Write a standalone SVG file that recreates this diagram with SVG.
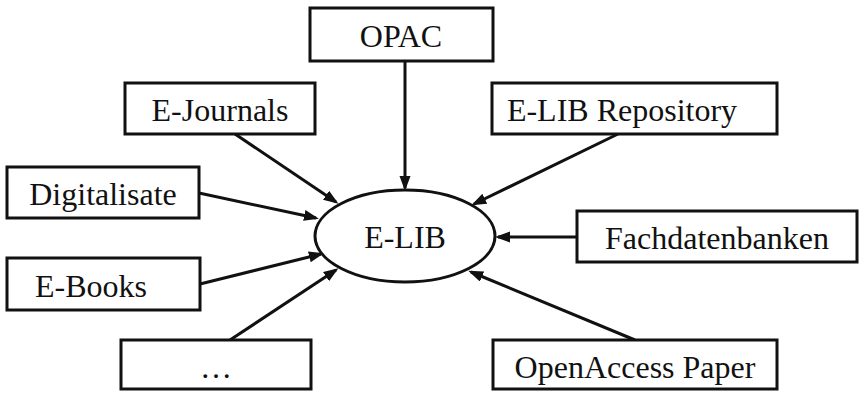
<svg xmlns="http://www.w3.org/2000/svg" width="860" height="393" viewBox="0 0 860 393">
  <defs>
    <marker id="arrow" markerUnits="userSpaceOnUse" markerWidth="16" markerHeight="12" refX="12" refY="5.5" orient="auto">
      <path d="M0,0 L15,5.5 L0,11 z" fill="#111"/>
    </marker>
    <style>
      .box { fill: #fff; stroke: #111; stroke-width: 3; }
      .label { font-family: "Liberation Serif", "Times New Roman", serif; font-size: 32px; fill: #111; text-anchor: middle; }
      .edge { stroke: #111; stroke-width: 3; fill: none; marker-end: url(#arrow); }
    </style>
  </defs>
  <rect width="860" height="393" fill="#fff"/>

  <g id="connectors">
    <line class="edge" x1="405" y1="61" x2="405" y2="188"/>
    <line class="edge" x1="235" y1="134" x2="336" y2="202"/>
    <line class="edge" x1="199" y1="193" x2="316" y2="218"/>
    <line class="edge" x1="200" y1="284" x2="321" y2="254"/>
    <line class="edge" x1="230" y1="340" x2="336" y2="270"/>
    <line class="edge" x1="618" y1="134" x2="474" y2="204"/>
    <line class="edge" x1="577" y1="237" x2="498" y2="237"/>
    <line class="edge" x1="635" y1="340" x2="471" y2="272"/>
  </g>

  <g id="elib">
    <ellipse cx="405" cy="236" rx="90" ry="46" fill="#fff" stroke="#111" stroke-width="3"/>
    <text class="label" x="405" y="248">E-LIB</text>
  </g>
  <g id="opac">
    <rect class="box" x="310" y="8" width="183" height="53"/>
    <text class="label" x="401" y="47">OPAC</text>
  </g>
  <g id="ejournals">
    <rect class="box" x="125" y="83" width="190" height="51"/>
    <text class="label" x="220" y="121">E-Journals</text>
  </g>
  <g id="digitalisate">
    <rect class="box" x="7" y="167" width="192" height="51"/>
    <text class="label" x="103" y="205">Digitalisate</text>
  </g>
  <g id="ebooks">
    <rect class="box" x="7" y="258" width="193" height="52"/>
    <text class="label" x="91" y="297">E-Books</text>
  </g>
  <g id="more">
    <rect class="box" x="121" y="340" width="190" height="49"/>
    <text class="label" x="216" y="378">…</text>
  </g>
  <g id="repository">
    <rect class="box" x="492" y="83" width="285" height="51"/>
    <text class="label" x="622" y="121">E-LIB Repository</text>
  </g>
  <g id="fachdatenbanken">
    <rect class="box" x="577" y="211" width="280" height="51"/>
    <text class="label" x="717" y="249">Fachdatenbanken</text>
  </g>
  <g id="openaccess">
    <rect class="box" x="493" y="340" width="284" height="49"/>
    <text class="label" x="635" y="378">OpenAccess Paper</text>
  </g>
</svg>
